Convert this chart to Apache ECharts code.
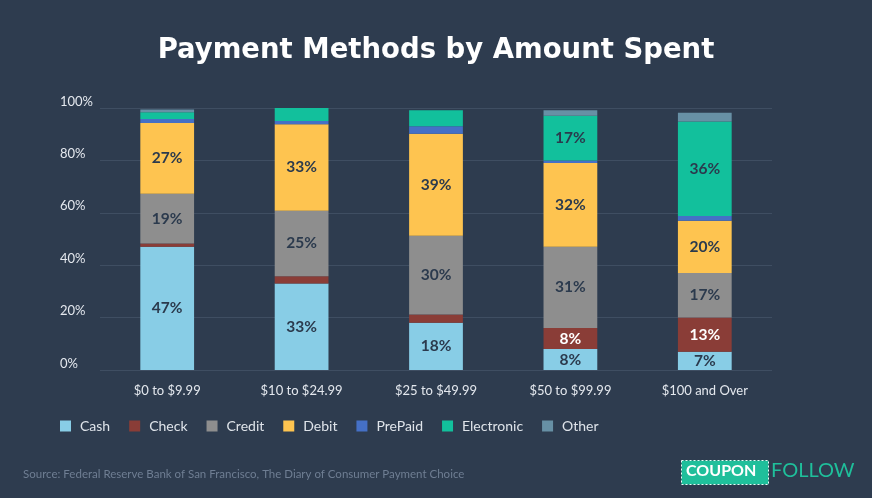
<!DOCTYPE html>
<html>
<head>
<meta charset="utf-8">
<script src="https://cdn.jsdelivr.net/npm/echarts@6/dist/echarts.min.js"></script>
<style>
html,body{margin:0;padding:0;background:#2e3c4f;}
#chart{width:872px;height:498px;}
</style>
</head>
<body>
<div id="chart"></div>
<script>
var categories = ['$0 to $9.99', '$10 to $24.99', '$25 to $49.99', '$50 to $99.99', '$100 and Over'];
var cash       = [47, 33, 18, 8, 7];
var check      = [1.3, 2.8, 3.2, 8, 13];
var credit     = [19, 25, 30, 31, 17];
var debit      = [27, 33, 39, 32, 20];
var prepaid    = [1.5, 1.2, 2.8, 1, 1.8];
var electronic = [2.6, 5, 6.1, 17, 36];
var other      = [1.0, 0, 0, 2.1, 3.4];
var yTicks = [0, 20, 40, 60, 80, 100];

var seriesDefs = [
  {name: 'Cash', data: cash, color: '#88cde6', label: '#2b3a4d'},
  {name: 'Check', data: check, color: '#8a3d37', label: '#ffffff'},
  {name: 'Credit', data: credit, color: '#8e8e8e', label: '#2b3a4d'},
  {name: 'Debit', data: debit, color: '#fec450', label: '#2b3a4d'},
  {name: 'PrePaid', data: prepaid, color: '#4570c6', label: '#2b3a4d'},
  {name: 'Electronic', data: electronic, color: '#12c09c', label: '#2b3a4d'},
  {name: 'Other', data: other, color: '#6790a5', label: '#2b3a4d'}
];

var chart = echarts.init(document.getElementById('chart'), null, {renderer: 'canvas'});
var font = 'Lato, "Open Sans", sans-serif';

chart.setOption({
  backgroundColor: '#2e3c4f',
  animation: false,
  title: {
    text: 'Payment Methods by Amount Spent',
    left: 'center',
    top: 32,
    textStyle: {color: '#ffffff', fontSize: 27.5, fontWeight: 'bold', fontFamily: '"DejaVu Sans", sans-serif'}
  },
  legend: {
    left: 55,
    top: 414,
    itemWidth: 11,
    itemHeight: 11,
    itemGap: 19,
    icon: 'rect',
    textStyle: {color: '#dfe4ea', fontSize: 14, fontFamily: font, padding: [0, 0, 0, 4]},
    data: seriesDefs.map(function (s) { return s.name; })
  },
  grid: {left: 100, right: 100, top: 108, bottom: 128},
  xAxis: {
    type: 'category',
    data: categories,
    axisLine: {show: false},
    axisTick: {show: false},
    axisLabel: {color: '#e4e8ee', fontSize: 13, margin: 14, fontFamily: font}
  },
  yAxis: {
    type: 'value',
    min: yTicks[0],
    max: yTicks[yTicks.length - 1],
    interval: yTicks[1] - yTicks[0],
    axisLine: {show: false},
    axisTick: {show: false},
    splitLine: {lineStyle: {color: '#3f4e62', width: 1}},
    axisLabel: {
      formatter: '{value}%',
      color: '#e4e8ee',
      fontSize: 13,
      fontFamily: font,
      align: 'left',
      verticalAlign: 'bottom',
      margin: 40
    }
  },
  series: seriesDefs.map(function (s) {
    return {
      name: s.name,
      type: 'bar',
      stack: 'total',
      barWidth: '40%',
      data: s.data,
      itemStyle: {color: s.color},
      label: {
        show: true,
        position: 'inside',
        color: s.label,
        fontSize: 15.5,
        fontWeight: 'bold',
        fontFamily: font,
        formatter: function (p) { return p.value >= 7 ? Math.round(p.value) + '%' : ''; }
      }
    };
  }),
  graphic: [
    {
      type: 'text',
      left: 23,
      top: 468,
      style: {text: 'Source: Federal Reserve Bank of San Francisco, The Diary of Consumer Payment Choice',
              fill: '#6f7e93', fontSize: 11.5, fontFamily: font}
    },
    {
      type: 'rect',
      left: 681,
      top: 460,
      shape: {width: 87, height: 24},
      style: {fill: '#1fbf9b', stroke: '#e8fff8', lineWidth: 1, lineDash: [2, 2]}
    },
    {
      type: 'text',
      left: 686,
      top: 463,
      style: {text: 'COUPON', fill: '#ffffff', fontSize: 16, fontWeight: 'bold', fontFamily: font}
    },
    {
      type: 'text',
      left: 771,
      top: 461,
      style: {text: 'FOLLOW', fill: '#1fbf9b', fontSize: 20, fontFamily: font}
    }
  ]
});
</script>
</body>
</html>
